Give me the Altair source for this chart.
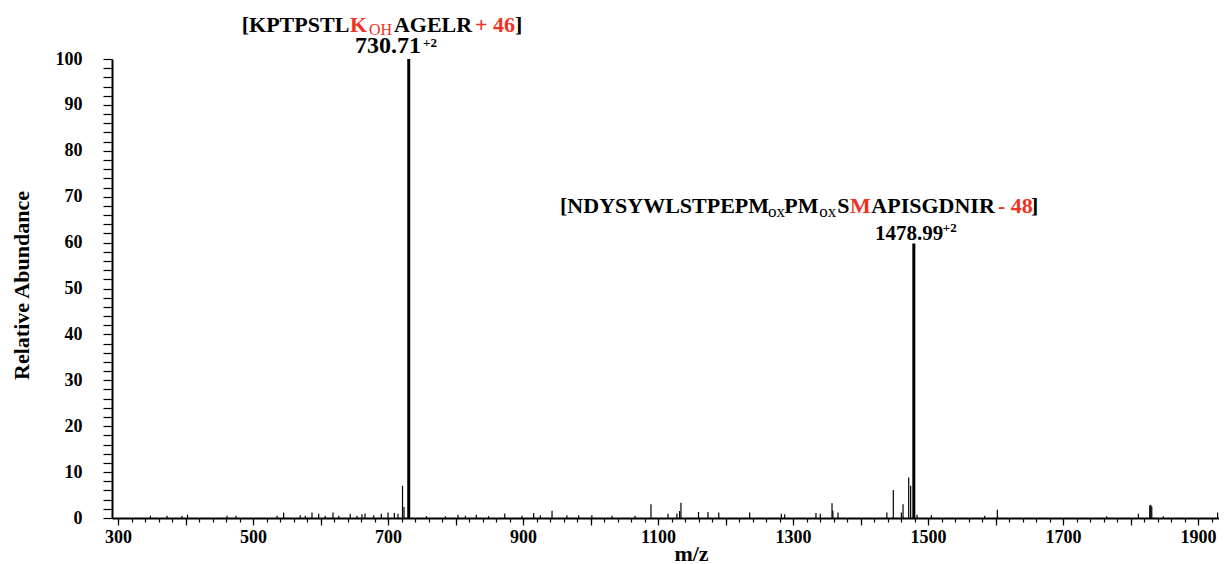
import altair as alt
import pandas as pd

# ---- spectrum data (m/z, relative abundance) ----
mz = [348, 372.6, 394.8, 403, 461.5, 474.8, 535.6, 545.4, 570, 577.5, 587.4, 597.3,
      607, 618.5, 627, 644, 654, 661.5, 666, 678.8, 690, 700, 709.4, 714.8, 721.5,
      723.7, 730.71, 757, 785, 803.7, 814.6, 830.8, 849, 873, 898.5, 915.8, 925.6,
      943, 965, 982.5, 1002, 1032, 1066, 1089.6, 1114.8, 1128, 1132, 1134, 1160,
      1174, 1190, 1235.8, 1282.7, 1287.7, 1334, 1340.5, 1357.8, 1359, 1366.7, 1439,
      1448.6, 1460.5, 1463, 1471.4, 1474.3, 1478.99, 1483.7, 1505, 1584, 1602.7,
      1764.7, 1811.6, 1828.5, 1830, 1831.5, 1848.6, 1929]
intensity = [0.5, 0.5, 0.5, 0.7, 0.5, 0.5, 0.5, 1.2, 0.6, 0.5, 1.2, 0.9,
             0.5, 1.2, 0.5, 0.9, 0.5, 0.8, 1.0, 0.6, 0.9, 1.2, 1.1, 0.9, 7.0,
             2.4, 100, 0.4, 0.4, 0.7, 0.5, 0.7, 0.4, 1.0, 0.5, 1.1, 0.6,
             1.6, 0.6, 0.6, 0.6, 0.5, 0.5, 3.0, 0.9, 1.0, 1.5, 3.3, 1.3,
             1.3, 1.2, 1.2, 0.9, 0.8, 1.1, 0.9, 3.2, 1.6, 1.2, 1.2,
             6.1, 1.2, 3.0, 8.8, 7.0, 59.8, 0.7, 0.6, 0.5, 1.8,
             0.4, 0.9, 2.7, 2.9, 2.5, 0.4, 1.2]

x_tick_minor = list(range(300, 1931, 20))
x_tick_major = list(range(300, 1931, 100))
y_ticks = list(range(0, 101, 2))

# ---- annotation text (peak m/z, label level in abundance units) ----
ann1_peak = 730.71
ann1_levels = [105.95, 101.24]
ann1_line1 = ["[KPTPSTL", "K", "OH", "AGELR", "+ 46", "]"]
ann1_line2 = ["730.71", "+2"]
ann2_peak = 1478.99
ann2_levels = [66.45, 60.57]
ann2_line1 = ["[NDYSYWLSTPEPM", "ox", "PM", "ox", "S", "M", "APISGDNIR", "- 48", "]"]
ann2_line2 = ["1478.99", "+2"]

# ---- styles ----
FONT = "Liberation Serif"
RED = "#ee3322"
BLACK = "#000000"
# (color, size, weight, dx, dy) per segment
ann1_style1 = [(BLACK, 22, "bold", -167, 0), (RED, 22, "bold", -58.7, 0),
               (RED, 16, "normal", -39.8, 3.5), (BLACK, 22, "bold", -14.8, 0),
               (RED, 22, "bold", 66.3, 0), (BLACK, 22, "bold", 106.3, 0)]
ann1_style2 = [(BLACK, 24, "bold", -53.7, 0), (BLACK, 13, "bold", 14.3, -6.6)]
ann2_style1 = [(BLACK, 22, "bold", -353.8, 0), (BLACK, 17, "normal", -145.8, 4.5),
               (BLACK, 22, "bold", -129.5, 0), (BLACK, 17, "normal", -94.5, 4.5),
               (BLACK, 22, "bold", -76.5, 0), (RED, 22, "bold", -63.8, 0),
               (BLACK, 22, "bold", -42.5, 0), (RED, 22, "bold", 84.2, 0),
               (BLACK, 22, "bold", 117.2, 0)]
ann2_style2 = [(BLACK, 21, "bold", -38.8, 0), (BLACK, 13, "bold", 29, -8)]

peaks = pd.DataFrame({"mz": mz, "intensity": intensity})

xs = alt.Scale(domain=[291.1, 1931.1], nice=False, zero=False)
ys = alt.Scale(domain=[0, 100], nice=False)

label_props = dict(labelFont=FONT, labelFontSize=18, labelFontWeight="bold",
                   labelColor="black", tickColor="black", domainColor="black")

spectrum = alt.Chart(peaks).mark_rule(color="black").encode(
    x=alt.X("mz:Q", scale=xs,
            axis=alt.Axis(orient="bottom", values=x_tick_minor, labels=False, tickSize=4,
                          tickWidth=1.2, domainWidth=2, domainColor="black",
                          tickColor="black", title=None, grid=False)),
    y=alt.Y("intensity:Q", scale=ys,
            axis=alt.Axis(orient="left", values=y_ticks, format="d",
                          labelExpr="datum.value % 10 == 0 ? datum.label : ''",
                          labelOverlap=False, labelFlush=False, tickSize=9, tickWidth=1.2,
                          domainWidth=2, labelPadding=21, grid=False,
                          title="Relative Abundance", titleFont=FONT, titleFontSize=22,
                          titleFontWeight="bold", titleColor="black", titleAngle=270,
                          titleX=-91, titleY=226, titleAlign="center",
                          titleBaseline="middle", **label_props)),
    y2=alt.datum(0),
    strokeWidth=alt.condition("datum.intensity > 50", alt.value(3), alt.value(1.2)),
)

major_axis = alt.Chart(peaks).mark_point(opacity=0).encode(
    x=alt.X("mz:Q", scale=xs,
            axis=alt.Axis(orient="bottom", values=x_tick_major, format="d",
                          labelExpr="(datum.value - 300) % 200 == 0 ? datum.label : ''",
                          labelOverlap=False, labelFlush=False, tickSize=7, tickWidth=1.2,
                          labelPadding=3, domain=False, grid=False,
                          title="m/z", titleFont=FONT, titleFontSize=22,
                          titleFontWeight="bold", titleColor="black",
                          titleX=579, titleY=42, titleAlign="center",
                          titleBaseline="alphabetic", **label_props)),
    y=alt.Y("intensity:Q", scale=ys, axis=None),
)

layers = [spectrum, major_axis]


def add_segments(peak, level, texts, styles):
    for txt, (col, size, weight, dx, dy) in zip(texts, styles):
        df = pd.DataFrame({"mz": [peak], "level": [level], "t": [txt]})
        layers.append(
            alt.Chart(df).mark_text(align="left", baseline="alphabetic", font=FONT,
                                    fontWeight=weight, fontSize=size, color=col,
                                    dx=dx, dy=dy).encode(
                x=alt.X("mz:Q", scale=xs, axis=None),
                y=alt.Y("level:Q", scale=ys, axis=None),
                text="t:N",
            )
        )


add_segments(ann1_peak, ann1_levels[0], ann1_line1, ann1_style1)
add_segments(ann1_peak, ann1_levels[1], ann1_line2, ann1_style2)
add_segments(ann2_peak, ann2_levels[0], ann2_line1, ann2_style1)
add_segments(ann2_peak, ann2_levels[1], ann2_line2, ann2_style2)

chart = alt.layer(*layers).resolve_axis(x="independent", y="independent").properties(
    width=1107, height=459,
    padding={"left": 104, "top": 51, "right": 0, "bottom": 46},
    autosize=alt.AutoSizeParams(type="none"),
    background="white",
).configure_view(stroke=None)

chart.save("out.html", embed_options={"renderer": "svg", "actions": False})
